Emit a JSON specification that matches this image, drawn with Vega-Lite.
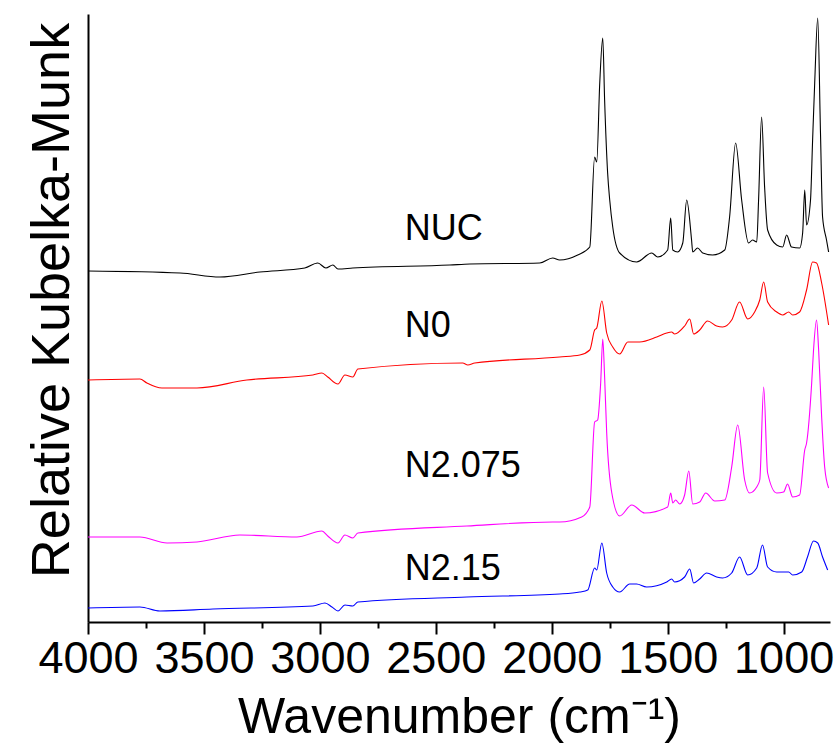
{
  "$schema": "https://vega.github.io/schema/vega-lite/v6.json",
  "width": 742,
  "height": 608,
  "autosize": {"type": "none"},
  "padding": {"left": 88, "top": 14, "right": 6, "bottom": 124},
  "background": "white",
  "config": {
    "view": {"stroke": null},
    "axis": {"grid": false, "domainColor": "#000000", "tickColor": "#000000", "labelColor": "#000000", "titleColor": "#000000", "labelFont": "Liberation Sans", "titleFont": "Liberation Sans", "titleFontWeight": "normal"}
  },
  "datasets": {
    "spectra": [
      {"s":"NUC","wn":4000,"km":351},{"s":"NUC","wn":3603,"km":349},{"s":"NUC","wn":3431,"km":345},{"s":"NUC","wn":3259,"km":350},{"s":"NUC","wn":3065,"km":354},{"s":"NUC","wn":3009,"km":359},{"s":"NUC","wn":2974,"km":354},{"s":"NUC","wn":2944,"km":357},{"s":"NUC","wn":2922,"km":353},{"s":"NUC","wn":2858,"km":354},{"s":"NUC","wn":2440,"km":357},{"s":"NUC","wn":2353,"km":358},{"s":"NUC","wn":2052,"km":359},{"s":"NUC","wn":1996,"km":364},{"s":"NUC","wn":1966,"km":362},{"s":"NUC","wn":1888,"km":367},{"s":"NUC","wn":1836,"km":375},{"s":"NUC","wn":1815,"km":465},{"s":"NUC","wn":1806,"km":460},{"s":"NUC","wn":1793,"km":539},{"s":"NUC","wn":1780,"km":584},{"s":"NUC","wn":1772,"km":522},{"s":"NUC","wn":1759,"km":449},{"s":"NUC","wn":1750,"km":422},{"s":"NUC","wn":1737,"km":395},{"s":"NUC","wn":1707,"km":369},{"s":"NUC","wn":1634,"km":360},{"s":"NUC","wn":1569,"km":369},{"s":"NUC","wn":1543,"km":365},{"s":"NUC","wn":1500,"km":372},{"s":"NUC","wn":1487,"km":404},{"s":"NUC","wn":1478,"km":372},{"s":"NUC","wn":1457,"km":370},{"s":"NUC","wn":1435,"km":379},{"s":"NUC","wn":1418,"km":422},{"s":"NUC","wn":1397,"km":382},{"s":"NUC","wn":1392,"km":370},{"s":"NUC","wn":1371,"km":374},{"s":"NUC","wn":1349,"km":369},{"s":"NUC","wn":1306,"km":367},{"s":"NUC","wn":1254,"km":372},{"s":"NUC","wn":1233,"km":405},{"s":"NUC","wn":1207,"km":479},{"s":"NUC","wn":1181,"km":422},{"s":"NUC","wn":1151,"km":379},{"s":"NUC","wn":1134,"km":382},{"s":"NUC","wn":1116,"km":380},{"s":"NUC","wn":1108,"km":422},{"s":"NUC","wn":1095,"km":505},{"s":"NUC","wn":1082,"km":435},{"s":"NUC","wn":1069,"km":392},{"s":"NUC","wn":1030,"km":377},{"s":"NUC","wn":1004,"km":375},{"s":"NUC","wn":987,"km":387},{"s":"NUC","wn":966,"km":375},{"s":"NUC","wn":931,"km":374},{"s":"NUC","wn":918,"km":389},{"s":"NUC","wn":909,"km":432},{"s":"NUC","wn":901,"km":397},{"s":"NUC","wn":884,"km":422},{"s":"NUC","wn":875,"km":482},{"s":"NUC","wn":866,"km":539},{"s":"NUC","wn":853,"km":604},{"s":"NUC","wn":841,"km":489},{"s":"NUC","wn":832,"km":405},{"s":"NUC","wn":815,"km":382},{"s":"NUC","wn":806,"km":370},
      {"s":"N0","wn":4000,"km":242},{"s":"N0","wn":3776,"km":243},{"s":"N0","wn":3746,"km":239},{"s":"N0","wn":3681,"km":234},{"s":"N0","wn":3530,"km":234},{"s":"N0","wn":3315,"km":242},{"s":"N0","wn":3030,"km":247},{"s":"N0","wn":2991,"km":249},{"s":"N0","wn":2966,"km":245},{"s":"N0","wn":2922,"km":238},{"s":"N0","wn":2892,"km":247},{"s":"N0","wn":2858,"km":245},{"s":"N0","wn":2836,"km":253},{"s":"N0","wn":2384,"km":259},{"s":"N0","wn":2362,"km":257},{"s":"N0","wn":2332,"km":259},{"s":"N0","wn":1966,"km":265},{"s":"N0","wn":1879,"km":267},{"s":"N0","wn":1836,"km":272},{"s":"N0","wn":1815,"km":292},{"s":"N0","wn":1806,"km":294},{"s":"N0","wn":1784,"km":321},{"s":"N0","wn":1763,"km":289},{"s":"N0","wn":1737,"km":275},{"s":"N0","wn":1707,"km":268},{"s":"N0","wn":1672,"km":280},{"s":"N0","wn":1621,"km":280},{"s":"N0","wn":1547,"km":285},{"s":"N0","wn":1504,"km":289},{"s":"N0","wn":1483,"km":290},{"s":"N0","wn":1470,"km":288},{"s":"N0","wn":1427,"km":296},{"s":"N0","wn":1405,"km":303},{"s":"N0","wn":1388,"km":288},{"s":"N0","wn":1362,"km":292},{"s":"N0","wn":1328,"km":301},{"s":"N0","wn":1289,"km":296},{"s":"N0","wn":1263,"km":295},{"s":"N0","wn":1224,"km":302},{"s":"N0","wn":1190,"km":320},{"s":"N0","wn":1155,"km":303},{"s":"N0","wn":1125,"km":310},{"s":"N0","wn":1103,"km":322},{"s":"N0","wn":1086,"km":340},{"s":"N0","wn":1069,"km":320},{"s":"N0","wn":1030,"km":310},{"s":"N0","wn":1004,"km":307},{"s":"N0","wn":978,"km":310},{"s":"N0","wn":961,"km":307},{"s":"N0","wn":931,"km":310},{"s":"N0","wn":901,"km":332},{"s":"N0","wn":875,"km":360},{"s":"N0","wn":858,"km":359},{"s":"N0","wn":836,"km":339},{"s":"N0","wn":806,"km":297},
      {"s":"N2.075","wn":4000,"km":85},{"s":"N2.075","wn":3776,"km":85},{"s":"N2.075","wn":3659,"km":79},{"s":"N2.075","wn":3530,"km":80},{"s":"N2.075","wn":3345,"km":87},{"s":"N2.075","wn":3099,"km":85},{"s":"N2.075","wn":2991,"km":91},{"s":"N2.075","wn":2966,"km":86},{"s":"N2.075","wn":2922,"km":79},{"s":"N2.075","wn":2892,"km":87},{"s":"N2.075","wn":2858,"km":84},{"s":"N2.075","wn":2836,"km":89},{"s":"N2.075","wn":2366,"km":96},{"s":"N2.075","wn":1996,"km":100},{"s":"N2.075","wn":1966,"km":100},{"s":"N2.075","wn":1871,"km":105},{"s":"N2.075","wn":1836,"km":115},{"s":"N2.075","wn":1815,"km":200},{"s":"N2.075","wn":1802,"km":202},{"s":"N2.075","wn":1789,"km":239},{"s":"N2.075","wn":1780,"km":283},{"s":"N2.075","wn":1772,"km":245},{"s":"N2.075","wn":1763,"km":189},{"s":"N2.075","wn":1741,"km":129},{"s":"N2.075","wn":1707,"km":106},{"s":"N2.075","wn":1655,"km":117},{"s":"N2.075","wn":1599,"km":109},{"s":"N2.075","wn":1500,"km":115},{"s":"N2.075","wn":1487,"km":129},{"s":"N2.075","wn":1478,"km":119},{"s":"N2.075","wn":1466,"km":122},{"s":"N2.075","wn":1448,"km":118},{"s":"N2.075","wn":1427,"km":127},{"s":"N2.075","wn":1409,"km":151},{"s":"N2.075","wn":1392,"km":118},{"s":"N2.075","wn":1362,"km":120},{"s":"N2.075","wn":1336,"km":129},{"s":"N2.075","wn":1297,"km":121},{"s":"N2.075","wn":1254,"km":122},{"s":"N2.075","wn":1224,"km":155},{"s":"N2.075","wn":1198,"km":197},{"s":"N2.075","wn":1168,"km":142},{"s":"N2.075","wn":1147,"km":129},{"s":"N2.075","wn":1116,"km":135},{"s":"N2.075","wn":1103,"km":142},{"s":"N2.075","wn":1086,"km":235},{"s":"N2.075","wn":1069,"km":149},{"s":"N2.075","wn":1030,"km":129},{"s":"N2.075","wn":1000,"km":130},{"s":"N2.075","wn":983,"km":138},{"s":"N2.075","wn":961,"km":125},{"s":"N2.075","wn":931,"km":127},{"s":"N2.075","wn":909,"km":172},{"s":"N2.075","wn":901,"km":179},{"s":"N2.075","wn":879,"km":239},{"s":"N2.075","wn":871,"km":272},{"s":"N2.075","wn":858,"km":302},{"s":"N2.075","wn":849,"km":272},{"s":"N2.075","wn":836,"km":205},{"s":"N2.075","wn":823,"km":155},{"s":"N2.075","wn":806,"km":134},
      {"s":"N2.15","wn":4000,"km":14},{"s":"N2.15","wn":3776,"km":15},{"s":"N2.15","wn":3690,"km":11},{"s":"N2.15","wn":3461,"km":13},{"s":"N2.15","wn":3030,"km":16},{"s":"N2.15","wn":2978,"km":19},{"s":"N2.15","wn":2948,"km":15},{"s":"N2.15","wn":2922,"km":11},{"s":"N2.15","wn":2892,"km":17},{"s":"N2.15","wn":2858,"km":16},{"s":"N2.15","wn":2836,"km":20},{"s":"N2.15","wn":2366,"km":25},{"s":"N2.15","wn":1966,"km":28},{"s":"N2.15","wn":1879,"km":30},{"s":"N2.15","wn":1845,"km":32},{"s":"N2.15","wn":1815,"km":54},{"s":"N2.15","wn":1806,"km":52},{"s":"N2.15","wn":1784,"km":79},{"s":"N2.15","wn":1763,"km":49},{"s":"N2.15","wn":1737,"km":35},{"s":"N2.15","wn":1707,"km":30},{"s":"N2.15","wn":1664,"km":38},{"s":"N2.15","wn":1634,"km":38},{"s":"N2.15","wn":1591,"km":35},{"s":"N2.15","wn":1504,"km":40},{"s":"N2.15","wn":1483,"km":43},{"s":"N2.15","wn":1470,"km":40},{"s":"N2.15","wn":1427,"km":45},{"s":"N2.15","wn":1405,"km":53},{"s":"N2.15","wn":1388,"km":39},{"s":"N2.15","wn":1362,"km":43},{"s":"N2.15","wn":1332,"km":49},{"s":"N2.15","wn":1289,"km":45},{"s":"N2.15","wn":1263,"km":44},{"s":"N2.15","wn":1224,"km":49},{"s":"N2.15","wn":1190,"km":65},{"s":"N2.15","wn":1155,"km":47},{"s":"N2.15","wn":1116,"km":54},{"s":"N2.15","wn":1091,"km":77},{"s":"N2.15","wn":1069,"km":55},{"s":"N2.15","wn":1030,"km":50},{"s":"N2.15","wn":978,"km":50},{"s":"N2.15","wn":961,"km":47},{"s":"N2.15","wn":922,"km":50},{"s":"N2.15","wn":897,"km":65},{"s":"N2.15","wn":871,"km":81},{"s":"N2.15","wn":853,"km":79},{"s":"N2.15","wn":832,"km":65},{"s":"N2.15","wn":810,"km":52}
    ],
    "labels": [
      {"name":"NUC","wn":2634,"km":382},
      {"name":"N0","wn":2634,"km":285},
      {"name":"N2.075","wn":2634,"km":145},
      {"name":"N2.15","wn":2634,"km":42}
    ]
  },
  "layer": [
    {
      "data": {"name": "spectra"},
      "mark": {"type": "line", "strokeWidth": 1.1, "interpolate": "monotone"},
      "encoding": {
        "x": {
          "field": "wn", "type": "quantitative",
          "scale": {"domain": [800, 4000], "reverse": true, "nice": false, "zero": false},
          "axis": {
            "values": [4000,3750,3500,3250,3000,2750,2500,2250,2000,1750,1500,1250,1000],
            "format": "d",
            "labelExpr": "datum.value % 500 === 0 ? datum.label : ''",
            "tickSize": {"condition": {"test": "datum.value % 500 === 0", "value": 12}, "value": 6},
            "tickWidth": 2,
            "domainWidth": 2,
            "labelFontSize": 45,
            "labelPadding": 2,
            "labelFlush": false,
            "labelOverlap": false,
            "title": "Wavenumber (cm⁻¹)",
            "titleFontSize": 50,
            "titleBaseline": "alphabetic",
            "titleY": 110
          }
        },
        "y": {
          "field": "km", "type": "quantitative",
          "scale": {"domain": [0, 608], "nice": false},
          "axis": {
            "ticks": false, "labels": false, "domainWidth": 2,
            "title": "Relative Kubelka-Munk",
            "titleFontSize": 54,
            "titleBaseline": "alphabetic",
            "titleAlign": "center",
            "titleAngle": 270,
            "titleX": -20,
            "titleY": 286
          }
        },
        "color": {
          "field": "s", "type": "nominal",
          "scale": {"domain": ["NUC","N0","N2.075","N2.15"], "range": ["#000000","#ff0000","#ff00ff","#0000ff"]},
          "legend": null
        }
      }
    },
    {
      "data": {"name": "labels"},
      "mark": {"type": "text", "align": "left", "baseline": "alphabetic", "font": "Liberation Sans", "fontSize": 36, "color": "#000000"},
      "encoding": {
        "x": {"field": "wn", "type": "quantitative"},
        "y": {"field": "km", "type": "quantitative"},
        "text": {"field": "name"}
      }
    }
  ]
}
